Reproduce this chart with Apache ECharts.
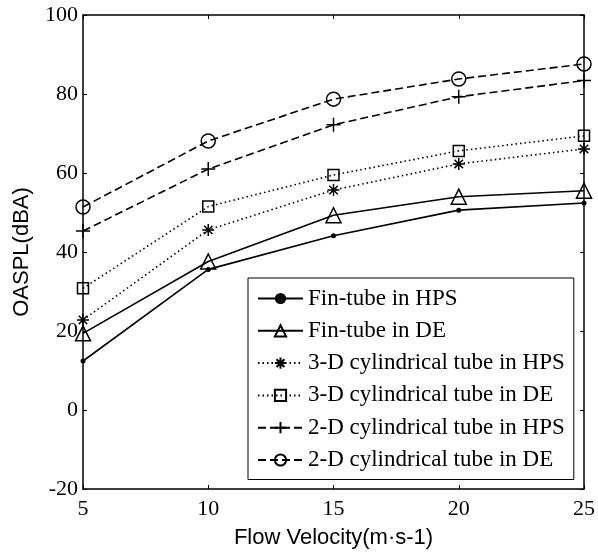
<!DOCTYPE html>
<html>
<head>
<meta charset="utf-8">
<script src="https://cdn.jsdelivr.net/npm/echarts@6/dist/echarts.min.js"></script>
<style>
  html, body { margin: 0; padding: 0; background: #fff; }
  #chart { width: 598px; height: 557px; }
</style>
</head>
<body>
<div id="chart"></div>
<script>
const chart = echarts.init(document.getElementById('chart'));

// flow velocity (m/s)
const velocity = [5, 10, 15, 20, 25];
const finHPS = [12.4, 35.6, 44.1, 50.6, 52.4];
const finDE = [19.4, 37.6, 49.3, 54.0, 55.5];
const cyl3HPS = [22.8, 45.6, 55.7, 62.3, 66.1];
const cyl3DE = [30.8, 51.5, 59.5, 65.6, 69.4];
const cyl2HPS = [45.3, 61.0, 72.2, 79.3, 83.4];
const cyl2DE = [51.4, 68.1, 78.7, 83.8, 87.6];
const names = ['Fin-tube in HPS', 'Fin-tube in DE', '3-D cylindrical tube in HPS',
  '3-D cylindrical tube in DE', '2-D cylindrical tube in HPS', '2-D cylindrical tube in DE'];

const serif = 'Liberation Serif';
const sans = 'Liberation Sans';

// marker shapes
const plusPath = 'path://M0,-10L0,10M-10,0L10,0';
const starPath = 'path://M0,-10L0,10M-10,0L10,0M-7,-7L7,7M-7,7L7,-7';

function mkSeries(name, values, dash, symbol, size, stroked) {
  return {
    name: name,
    type: 'line',
    data: values.map((v, i) => [velocity[i], v]),
    symbol: symbol,
    symbolSize: size,
    lineStyle: { color: '#000', width: 1.6, type: dash },
    itemStyle: stroked
      ? { color: 'transparent', borderColor: '#000', borderWidth: 1.5 }
      : { color: '#000' },
    emphasis: { disabled: true },
    z: 3
  };
}

const option = {
  animation: false,
  backgroundColor: '#fff',
  grid: { left: 83, top: 15, right: 13, bottom: 68, containLabel: false },
  legend: {
    orient: 'vertical',
    left: 248,
    top: 278,
    padding: [9, 9, 8, 9],
    itemWidth: 45,
    itemHeight: 14,
    itemGap: 9.3,
    borderColor: '#000',
    borderWidth: 1,
    backgroundColor: '#fff',
    textStyle: { fontFamily: serif, fontSize: 23, color: '#000' },
    data: names
  },
  xAxis: [
    {
      type: 'value', min: 5, max: 25, interval: 5,
      name: 'Flow Velocity(m·s-1)', nameLocation: 'middle', nameGap: 38,
      nameTextStyle: { fontFamily: sans, fontSize: 22, color: '#000' },
      axisLine: { onZero: false, lineStyle: { color: '#000', width: 1.5 } },
      axisTick: { inside: true, length: 4, lineStyle: { color: '#000' } },
      axisLabel: { fontFamily: serif, fontSize: 22, color: '#000', margin: 9 },
      splitLine: { show: false }
    },
    {
      type: 'value', min: 5, max: 25, interval: 5, position: 'top',
      axisLine: { onZero: false, lineStyle: { color: '#000', width: 1.5 } },
      axisTick: { inside: true, length: 4, lineStyle: { color: '#000' } },
      axisLabel: { show: false },
      splitLine: { show: false }
    }
  ],
  yAxis: [
    {
      type: 'value', min: -20, max: 100, interval: 20,
      name: 'OASPL(dBA)', nameLocation: 'middle', nameGap: 50,
      nameTextStyle: { fontFamily: sans, fontSize: 22, color: '#000' },
      axisLine: { onZero: false, lineStyle: { color: '#000', width: 1.5 } },
      axisTick: { inside: true, length: 4, lineStyle: { color: '#000' } },
      axisLabel: { fontFamily: serif, fontSize: 22, color: '#000', margin: 5 },
      splitLine: { show: false }
    },
    {
      type: 'value', min: -20, max: 100, interval: 20, position: 'right',
      axisLine: { onZero: false, lineStyle: { color: '#000', width: 1.5 } },
      axisTick: { inside: true, length: 4, lineStyle: { color: '#000' } },
      axisLabel: { show: false },
      splitLine: { show: false }
    }
  ],
  series: [
    mkSeries(names[0], finHPS, 'solid', 'circle', 5, false),
    mkSeries(names[1], finDE, 'solid', 'triangle', 15, true),
    mkSeries(names[2], cyl3HPS, [1.5, 3], starPath, 12, true),
    mkSeries(names[3], cyl3DE, [1.5, 3], 'rect', 11, true),
    mkSeries(names[4], cyl2HPS, [8, 4], plusPath, 14, true),
    mkSeries(names[5], cyl2DE, [8, 4], 'circle', 14, true)
  ]
};
option && chart.setOption(option);
</script>
</body>
</html>
